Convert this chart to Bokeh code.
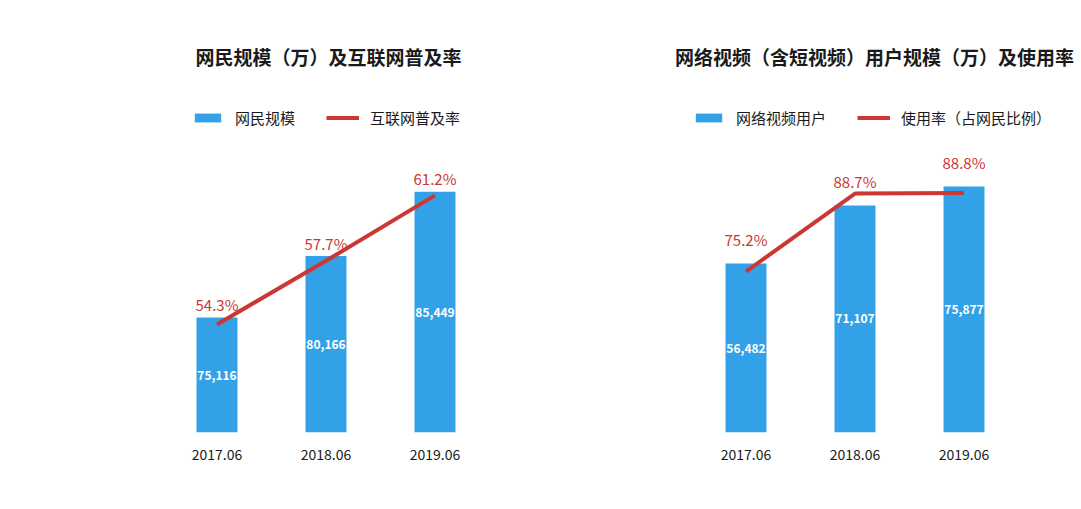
from bokeh.plotting import figure
from bokeh.models import ColumnDataSource, Range1d, FixedTicker, Label, Legend, LegendItem
from bokeh.layouts import row
from bokeh.embed import file_html
from bokeh.resources import INLINE
from bokeh.core.properties import value

# ---- data ----
periods = ["2017.06", "2018.06", "2019.06"]
netizens = [75116, 80166, 85449]            # 网民规模（万）
penetration = [54.3, 57.7, 61.2]            # 互联网普及率 %
video_users = [56482, 71107, 75877]         # 网络视频用户（万）
video_rate = [75.2, 88.7, 88.8]             # 使用率 %

FONT = "Noto Sans CJK SC"
BLUE = "#33a1e8"
RED = "#cc3633"
TXT = "#1a1a1a"


def make_chart(title, bar_name, line_name, vals, rates, xr, yr, rr,
               pct_offset, title_x, legend_x):
    p = figure(width=540, height=500, output_backend="svg", toolbar_location=None,
               x_range=Range1d(*xr), y_range=Range1d(*yr), y_axis_location=None,
               min_border_left=0, min_border_right=0, min_border_top=0,
               min_border_bottom=68)
    p.extra_y_ranges = {"rate": Range1d(*rr)}
    p.outline_line_color = None
    p.grid.visible = False
    p.background_fill_color = "white"
    p.border_fill_color = "white"

    xs = list(range(len(periods)))
    src = ColumnDataSource(dict(
        x=xs,
        val=vals,
        mid=[(yr[0] + v) / 2 for v in vals],
        rate=rates,
        vlab=[f"{v:,}" for v in vals],
        plab=[f"{r}%" for r in rates],
    ))

    bars = p.vbar(x="x", top="val", bottom=yr[0], width=0.376, source=src,
                  fill_color=BLUE, line_color=None)
    line = p.line(x="x", y="rate", source=src, y_range_name="rate",
                  line_width=4, line_color=RED)

    p.text(x="x", y="mid", text="vlab", source=src, text_color="white",
           text_font=value(FONT), text_font_style="bold", text_font_size="12px",
           text_align="center", text_baseline="middle")
    p.text(x="x", y="val", text="plab", source=src, text_color=RED,
           text_font=value(FONT), text_font_size="15px", y_offset=pct_offset,
           text_align="center", text_baseline="middle")

    ax = p.xaxis[0]
    ax.ticker = FixedTicker(ticks=xs)
    ax.major_label_overrides = {i: lab for i, lab in enumerate(periods)}
    ax.axis_line_color = None
    ax.major_tick_line_color = None
    ax.minor_tick_line_color = None
    ax.major_label_text_font = FONT
    ax.major_label_text_font_size = "14px"
    ax.major_label_text_color = TXT
    ax.major_label_standoff = 10

    p.add_layout(Label(x=title_x, y=376, x_units="screen", y_units="screen",
                       text=title, text_align="center", text_baseline="middle",
                       text_font=FONT, text_font_size="19px",
                       text_font_style="bold", text_color=TXT))

    legend = Legend(items=[LegendItem(label=bar_name, renderers=[bars]),
                           LegendItem(label=line_name, renderers=[line])],
                    location=(legend_x, 304), orientation="horizontal",
                    glyph_width=33, glyph_height=11, label_standoff=11,
                    spacing=31, padding=0, margin=0,
                    border_line_alpha=0, background_fill_alpha=0,
                    label_text_font=FONT, label_text_font_size="15px",
                    label_text_color=TXT)
    p.add_layout(legend)
    return p


left = make_chart("网民规模（万）及互联网普及率", "网民规模", "互联网普及率",
                  netizens, penetration,
                  (-1.9862, 2.9679), (65690, 101129), (48.52, 71.62),
                  -13, 328, 191)
right = make_chart("网络视频（含短视频）用户规模（万）及使用率", "网络视频用户",
                   "使用率（占网民比例）",
                   video_users, video_rate,
                   (-1.8853, 3.0688), (13945, 122706), (47.34, 122.11),
                   -24, 334, 152)

layout = row(left, right)
open("out.html", "w").write(file_html(layout, INLINE))
